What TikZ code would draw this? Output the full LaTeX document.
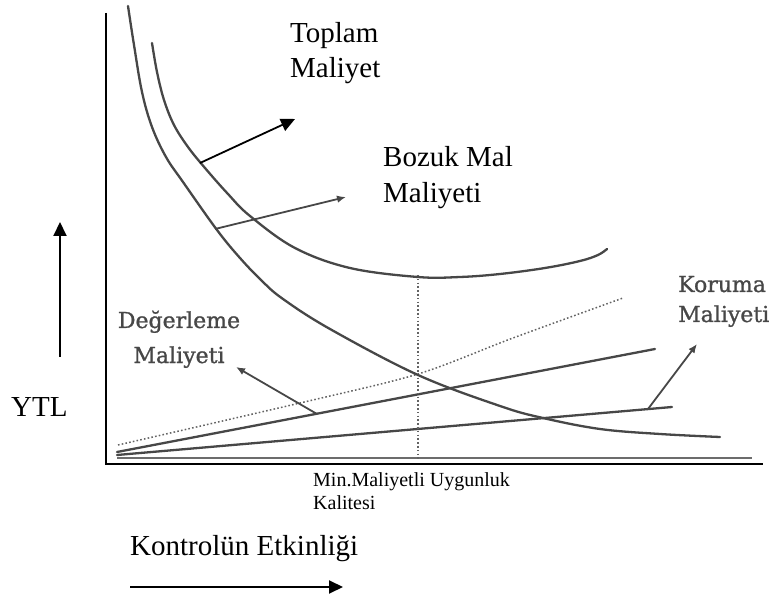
\documentclass[tikz,border=0pt]{standalone}
\usepackage{fontspec}
\setmainfont{Liberation Serif}
\newfontfamily\scanfont[FakeBold=1.1]{DejaVu Serif}
\usetikzlibrary{arrows.meta}
\definecolor{ink}{HTML}{474747}
\begin{document}
\begin{tikzpicture}[x=1pt,y=-1pt,
  curve/.style={draw=ink, line width=2.3pt, line cap=round},
  guide/.style={draw=ink!85, line width=1.5pt, dash pattern=on 1.6pt off 2.2pt},
  pointer/.style={draw=ink, line width=1.8pt, -{Latex[length=9pt,width=7.5pt]}},
  bigarrow/.style={draw=black, line width=1.8pt, -{Triangle[length=14pt,width=13pt]}},
  axis/.style={draw=black, line width=2pt},
  label/.style={font=\fontsize{29}{34}\selectfont, inner sep=0pt, anchor=base west},
  small/.style={font=\fontsize{20}{23}\selectfont, inner sep=0pt, anchor=base west},
  scan/.style={font=\scanfont\fontsize{22}{26}\selectfont, text=ink, inner sep=0pt},
]
\useasboundingbox (0,0) rectangle (772,596);

% axes
\coordinate (ytop) at (106,13);
\coordinate (origin) at (106,464);
\coordinate (xend) at (763,464);
\draw[axis] (ytop) -- (origin) -- (xend);

% printed base line of the chart
\coordinate (b0) at (117,458);
\coordinate (b1) at (752,458);
\draw[draw=ink!80, line width=1.8pt] (b0) -- (b1);

% appraisal and prevention costs (straight lines)
\coordinate (a0) at (117,452);
\coordinate (a1) at (655,349);
\coordinate (p0) at (117,455);
\coordinate (p1) at (672,407);
\draw[curve] (a0) -- (a1);
\draw[curve] (p0) -- (p1);

% sum of the two lines
\draw[guide] plot[smooth, tension=0.5] coordinates
  {(118,445) (300,403) (418,374) (513,338) (623,298)};

% minimum-cost quality level
\coordinate (m0) at (418,275);
\coordinate (m1) at (418,460);
\draw[guide] (m0) -- (m1);

% failure cost curve
\draw[curve] plot[smooth, tension=0.6] coordinates
  {(128,6) (134,45) (142,92) (152,127) (166,157) (183,182)
   (217,230) (240,258) (262,281) (283,299) (330,329) (418,375)
   (500,406) (543,418) (600,429) (660,434) (720,437)};

% total cost curve
\draw[curve] plot[smooth, tension=0.6] coordinates
  {(152,43) (157,72) (164,100) (174,125) (188,147) (205,168)
   (228,194) (250,216) (295,248) (350,268) (418,277) (460,277)
   (500,274) (545,268) (580,261) (598,255) (607,249)};

% labels
\node[label] (toplam1) at (290,43) {Toplam};
\node[label] (toplam2) at (290,78) {Maliyet};
\node[label] (bozuk1) at (383,167) {Bozuk Mal};
\node[label] (bozuk2) at (383,203) {Maliyeti};
\node[label] (ytl) at (11,417) {YTL};
\node[label] (kontrol) at (130,555) {Kontrolün Etkinliği};
\node[small] (minq1) at (313,486) {Min.Maliyetli Uygunluk};
\node[small] (minq2) at (313,509) {Kalitesi};
\node[scan, anchor=base] (deg1) at (179,328) {Değerleme};
\node[scan, anchor=base] (deg2) at (179,363) {Maliyeti};
\node[scan, anchor=base west] (kor1) at (678,292) {Koruma};
\node[scan, anchor=base west] (kor2) at (678,322) {Maliyeti};

% pointers from the curves to their labels
\coordinate (tcFrom) at (200,163);
\coordinate (tcTo) at (295,119);
\draw[bigarrow] (tcFrom) -- (tcTo);

\coordinate (fcFrom) at (215,229);
\coordinate (fcTo) at (346,197);
\draw[pointer] (fcFrom) -- (fcTo);

\coordinate (apFrom) at (317,414);
\coordinate (apTo) at (236,367);
\draw[pointer] (apFrom) -- (apTo);

\coordinate (prFrom) at (648,409);
\coordinate (prTo) at (697,344);
\draw[pointer] (prFrom) -- (prTo);

% axis direction arrows
\coordinate (yaFrom) at (60,357);
\coordinate (yaTo) at (60,222);
\draw[bigarrow, line width=2pt] (yaFrom) -- (yaTo);

\coordinate (xaFrom) at (130,587);
\coordinate (xaTo) at (343,587);
\draw[bigarrow, line width=2pt] (xaFrom) -- (xaTo);
\end{tikzpicture}
\end{document}
